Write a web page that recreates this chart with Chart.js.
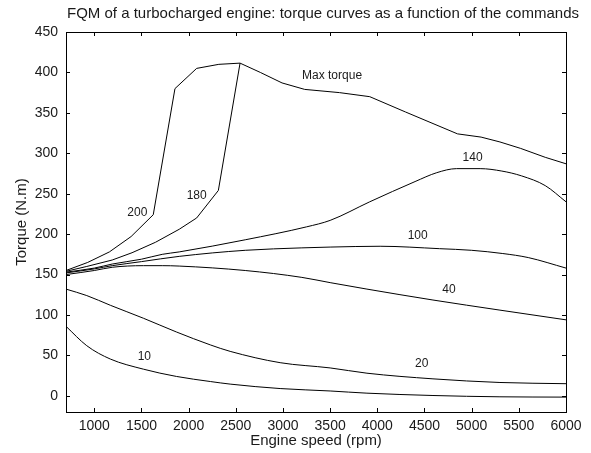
<!DOCTYPE html>
<html>
<head>
<meta charset="utf-8">
<script src="https://cdn.jsdelivr.net/npm/chart.js@4/dist/chart.umd.min.js"></script>
<style>
  html, body { margin: 0; padding: 0; background: #fff; }
  #wrap { width: 591px; height: 453px; }
</style>
</head>
<body>
<div id="wrap"><canvas id="c" width="591" height="453"></canvas></div>
<script>
// Torque curves (N.m) versus engine speed (rpm), one pair of arrays per command
const rpm200 = [700, 930, 1160, 1390, 1625, 1855, 2085, 2320, 2545];
const trq200 = [155, 165, 178, 197, 224, 380, 405, 410, 411.5];

const rpmMax = [2545, 2760, 2990, 3230, 3600, 3920, 4300, 4850, 5100, 5300, 5520, 5780, 6000];
const trqMax = [411.5, 400, 387, 379, 375, 370, 351, 324, 320, 314, 306, 295, 287];

const rpm180 = [700, 920, 1190, 1400, 1650, 1900, 2085, 2315, 2545];
const trq180 = [154, 160, 168, 177, 190, 206, 220, 254, 411.5];

const rpm140 = [700, 1000, 1190, 1500, 1720, 1900, 2600, 3250, 3500, 3920, 4400, 4630, 4840, 5090, 5320, 5530, 5780, 6000];
const trq140 = [153, 158, 163, 169, 175, 178, 193, 209, 217, 240, 265, 276, 281, 281, 278, 272, 260, 240];

const rpm100 = [700, 1000, 1190, 1500, 1900, 2600, 3200, 3500, 4030, 4660, 5000, 5330, 5600, 6000];
const trq100 = [152, 157, 161, 166, 172.5, 180, 183, 184, 185, 182, 180, 176, 171, 158];

const rpm40 = [700, 1000, 1190, 1520, 1720, 1900, 2600, 3200, 3500, 3890, 4590, 5300, 6000];
const trq40 = [150, 155, 159, 161, 161, 160.5, 155, 146.5, 140, 132, 118.5, 106, 94];

const rpm20 = [700, 920, 1170, 1520, 1870, 2230, 2440, 2970, 3500, 3890, 4590, 5300, 6000];
const trq20 = [132, 124, 112, 96, 79, 63, 55, 41, 34.5, 28, 21, 16.5, 15];

const rpm10 = [700, 920, 1170, 1520, 1870, 2230, 2440, 2970, 3500, 3890, 4590, 5300, 6000];
const trq10 = [86, 62, 45.5, 33, 24, 17.7, 14.5, 9, 6, 3.3, 0.4, -1.2, -1.6];

// Axis ticks
const xTicks = [1000, 1500, 2000, 2500, 3000, 3500, 4000, 4500, 5000, 5500, 6000];
const yTicks = [0, 50, 100, 150, 200, 250, 300, 350, 400, 450];

// Curve annotations and where they sit (rpm, N.m)
const labelText = ['Max torque', '200', '180', '140', '100', '40', '20', '10'];
const labelRpm  = [3520, 1456, 2085, 5010, 4428, 4760, 4470, 1530];
const labelTrq  = [396, 226, 248, 295, 198, 131, 40, 48];

const FONT = '"Liberation Sans", Arial, Helvetica, sans-serif';
const INK = '#1a1a1a';

// smooth = true for the part-load curves, false for the ones with sharp corners
function series(xs, ys, smooth) {
  const ds = {
    data: xs.map((x, i) => ({ x: x, y: ys[i] })),
    borderColor: '#000',
    borderWidth: 1,
    pointRadius: 0,
    showLine: true,
    tension: 0,
    fill: false
  };
  if (smooth) ds.cubicInterpolationMode = 'monotone';
  return ds;
}

const frame = {
  id: 'frame',
  afterDatasetsDraw(chart) {
    const { ctx, chartArea: a, scales: { x, y } } = chart;
    ctx.save();
    ctx.strokeStyle = '#000';
    ctx.lineWidth = 1;
    // inward ticks on all four sides
    const len = 4;
    ctx.beginPath();
    xTicks.forEach(v => {
      const px = Math.round(x.getPixelForValue(v)) + 0.5;
      ctx.moveTo(px, a.bottom); ctx.lineTo(px, a.bottom - len);
      ctx.moveTo(px, a.top); ctx.lineTo(px, a.top + len);
    });
    yTicks.forEach(v => {
      const py = Math.round(y.getPixelForValue(v)) + 0.5;
      ctx.moveTo(a.left, py); ctx.lineTo(a.left + len, py);
      ctx.moveTo(a.right, py); ctx.lineTo(a.right - len, py);
    });
    ctx.stroke();
    // box
    ctx.strokeRect(Math.round(a.left) + 0.5, Math.round(a.top) + 0.5,
                   Math.round(a.right - a.left), Math.round(a.bottom - a.top));

    // curve labels
    ctx.fillStyle = INK;
    ctx.font = '12px ' + FONT;
    ctx.textAlign = 'center';
    ctx.textBaseline = 'middle';
    labelText.forEach((t, i) => {
      ctx.fillText(t, x.getPixelForValue(labelRpm[i]), y.getPixelForValue(labelTrq[i]));
    });

    // title and axis titles
    ctx.font = '15px ' + FONT;
    ctx.fillText('FQM of a turbocharged engine: torque curves as a function of the commands', 323, 14);
    ctx.fillText('Engine speed (rpm)', (a.left + a.right) / 2, 441);
    ctx.translate(22, (a.top + a.bottom) / 2);
    ctx.rotate(-Math.PI / 2);
    ctx.fillText('Torque (N.m)', 0, 0);
    ctx.restore();
  }
};

new Chart(document.getElementById('c'), {
  type: 'scatter',
  data: {
    datasets: [
      series(rpm200, trq200, false),
      series(rpmMax, trqMax, false),
      series(rpm180, trq180, false),
      series(rpm140, trq140, true),
      series(rpm100, trq100, true),
      series(rpm40, trq40, true),
      series(rpm20, trq20, true),
      series(rpm10, trq10, true)
    ]
  },
  options: {
    responsive: false,
    animation: false,
    devicePixelRatio: 1,
    layout: { padding: { top: 32, right: 25, left: 0, bottom: 0 } },
    plugins: { legend: { display: false }, tooltip: { enabled: false }, title: { display: false } },
    scales: {
      x: {
        type: 'linear',
        min: 700, max: 6000,
        afterBuildTicks: s => { s.ticks = xTicks.map(v => ({ value: v })); },
        afterFit: s => { s.height = 41; },
        grid: { display: false, drawTicks: false },
        border: { display: false },
        ticks: { padding: 6, color: INK, font: { family: FONT, size: 14 }, maxRotation: 0, autoSkip: false, callback: v => String(v) }
      },
      y: {
        type: 'linear',
        min: -20, max: 450,
        afterBuildTicks: s => { s.ticks = yTicks.map(v => ({ value: v })); },
        afterFit: s => { s.width = 66; },
        grid: { display: false, drawTicks: false },
        border: { display: false },
        ticks: { padding: 8, color: INK, font: { family: FONT, size: 14 }, autoSkip: false, callback: v => String(v) }
      }
    }
  },
  plugins: [frame]
});
</script>
</body>
</html>
